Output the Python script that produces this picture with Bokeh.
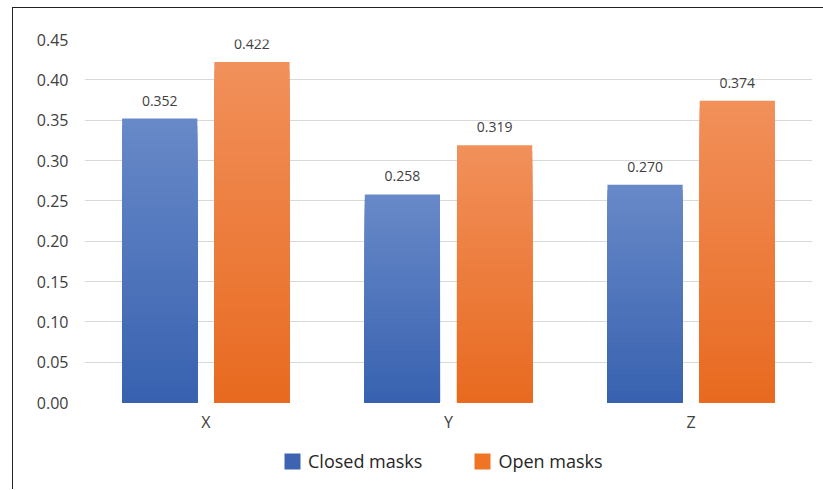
from bokeh.plotting import figure
from bokeh.layouts import column
from bokeh.models import (ColumnDataSource, FactorRange, Range1d, FixedTicker,
                          NumeralTickFormatter, Legend, LegendItem)
from bokeh.transform import dodge
from bokeh.core.properties import value
from bokeh.embed import file_html
from bokeh.resources import INLINE

# ---- data ----
categories = ["X", "Y", "Z"]
closed_masks = [0.352, 0.258, 0.270]
open_masks = [0.422, 0.319, 0.374]
series_names = ["Closed masks", "Open masks"]
y_ticks = [0.00, 0.05, 0.10, 0.15, 0.20, 0.25, 0.30, 0.35, 0.40, 0.45]

# ---- style ----
FONT = "Open Sans"
TEXT_COLOR = "#404040"
closed_grad = ("#3761af", "#6889c8")   # bottom, top
open_grad = ("#e8691f", "#f1905a")
legend_colors = ["#3c64b0", "#ef7424"]
offsets = [-0.19, 0.19]
BAR_W = 0.31
STEPS = 40


def mix(c1, c2, t):
    a = [int(c1[i:i + 2], 16) for i in (1, 3, 5)]
    b = [int(c2[i:i + 2], 16) for i in (1, 3, 5)]
    return "#%02x%02x%02x" % tuple(round(a[j] + (b[j] - a[j]) * t) for j in range(3))


p = figure(x_range=FactorRange(*categories), y_range=Range1d(0, 0.45),
           width=811, height=433, output_backend="svg", toolbar_location=None,
           min_border_left=71, min_border_right=12, min_border_top=31,
           min_border_bottom=39)
p.outline_line_color = None
p.background_fill_color = "white"
p.border_fill_color = "white"

for vals, grad, off in zip([closed_masks, open_masks],
                           [closed_grad, open_grad], offsets):
    xs, tops, cols = [], [], []
    for k in range(STEPS):
        frac = (STEPS - k) / STEPS
        c = mix(grad[0], grad[1], frac)
        for cat, v in zip(categories, vals):
            xs.append(cat)
            tops.append(v * frac)
            cols.append(c)
    src = ColumnDataSource(dict(x=xs, top=tops, color=cols))
    p.vbar(x=dodge("x", off, range=p.x_range), top="top", bottom=0, width=BAR_W,
           fill_color="color", line_color=None, source=src)

    lab_src = ColumnDataSource(dict(x=categories, y=vals,
                                    t=["%.3f" % v for v in vals]))
    p.text(x=dodge("x", off, range=p.x_range), y="y", text="t", source=lab_src,
           text_align="center", text_baseline="bottom", y_offset=-13,
           text_font=value(FONT), text_font_size="14px", text_color=TEXT_COLOR)

# axes
p.yaxis.ticker = FixedTicker(ticks=y_ticks)
p.yaxis.formatter = NumeralTickFormatter(format="0.00")
for ax in (p.xaxis[0], p.yaxis[0]):
    ax.axis_line_color = None
    ax.major_tick_line_color = None
    ax.minor_tick_line_color = None
    ax.major_label_text_font = FONT
    ax.major_label_text_font_size = "16px"
    ax.major_label_text_color = TEXT_COLOR
p.yaxis.major_label_standoff = 10
p.xaxis.major_label_standoff = 2

p.xgrid.grid_line_color = None
p.ygrid.ticker = FixedTicker(ticks=y_ticks)
p.ygrid.grid_line_color = "#d9d9d9"
p.ygrid.grid_line_width = 1

# ---- legend strip ----
lf = figure(width=811, height=48, output_backend="svg", toolbar_location=None,
            x_range=Range1d(0, 1), y_range=Range1d(0, 1),
            min_border_left=0, min_border_right=0, min_border_top=0,
            min_border_bottom=0)
lf.axis.visible = False
lf.grid.visible = False
lf.outline_line_color = None
lf.border_fill_color = "white"
items = []
for name, col in zip(series_names, legend_colors):
    # zero-height proxy bar: only used to draw the legend swatch
    r = lf.vbar(x=[0.5], top=[0.0], bottom=0, width=0.0,
                fill_color=col, line_color=None)
    items.append(LegendItem(label=name, renderers=[r]))
legend = Legend(items=items, orientation="horizontal", location=(198, 16),
                glyph_width=20, glyph_height=20, label_standoff=6, spacing=50,
                label_text_font=FONT, label_text_font_size="18px",
                label_text_color="#262626", border_line_color=None,
                background_fill_alpha=0, padding=4)
lf.add_layout(legend, "center")

layout = column(p, lf, spacing=0)
layout.margin = (7, 0, 0, 12)
layout.styles = {"border-left": "1.5px solid #222222", "border-top": "1.5px solid #222222"}

open("out.html", "w").write(file_html(layout, INLINE))
